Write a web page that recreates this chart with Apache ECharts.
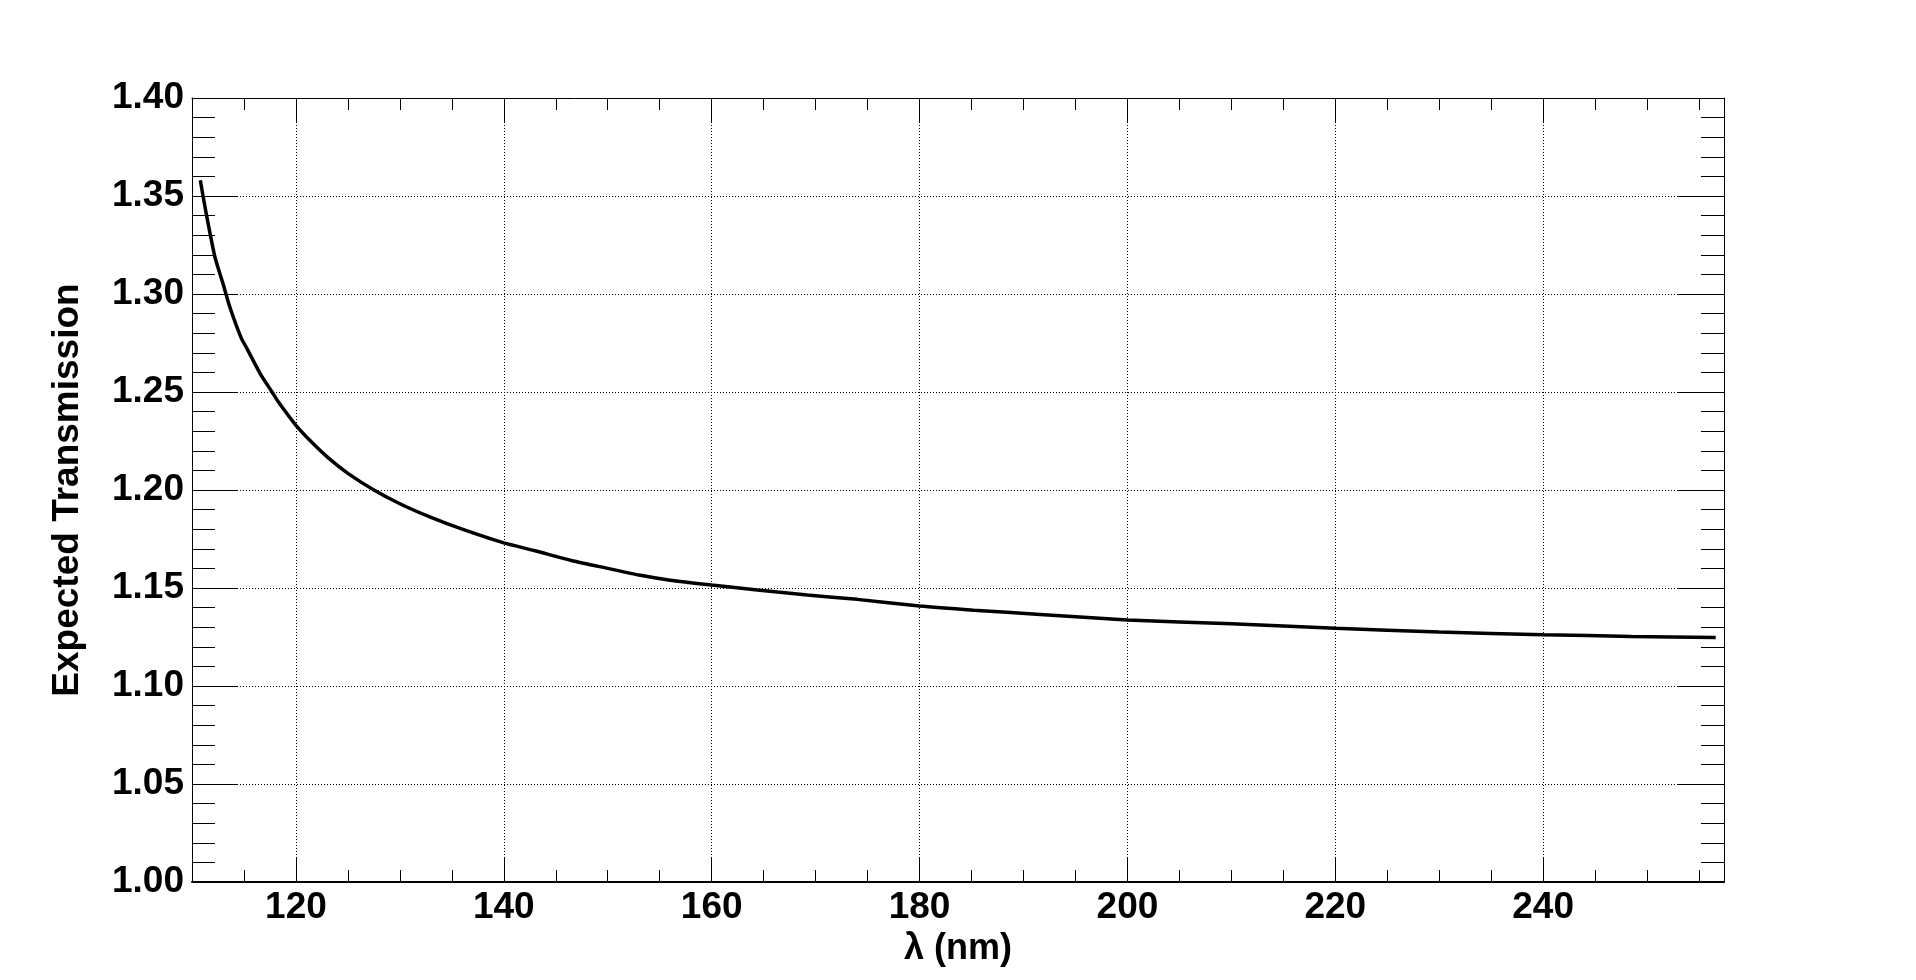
<!DOCTYPE html>
<html>
<head>
<meta charset="utf-8">
<script src="https://cdn.jsdelivr.net/npm/echarts@6/dist/echarts.min.js"></script>
<style>
  html, body { margin: 0; background: #fff; }
  #chart { width: 1916px; height: 980px; }
</style>
</head>
<body>
<div id="chart"></div>
<script>
const wavelength = [110.8, 111.3, 112.2, 113.0, 113.6, 114.7, 115.3, 116.6, 117.7, 118.3, 120, 121.5, 123.2, 125, 127.5, 130, 133, 136, 140, 143, 146.5, 150, 153, 156, 160, 164.4, 169.2, 174, 180, 185.2, 191.6, 200, 210, 220, 230, 240, 248.5, 256.6]
const transmission = [1.358, 1.343, 1.319, 1.305, 1.294, 1.278, 1.272, 1.259, 1.250, 1.245, 1.233, 1.2245, 1.216, 1.2085, 1.200, 1.193, 1.186, 1.180, 1.173, 1.169, 1.164, 1.160, 1.1566, 1.154, 1.1515, 1.149, 1.1464, 1.1442, 1.1408, 1.1387, 1.1365, 1.1337, 1.1317, 1.1295, 1.1275, 1.1262, 1.1253, 1.1247]

const xMajorTicks = [120, 140, 160, 180, 200, 220, 240]
const xMin = 110
const xMax = 257.4
const yMin = 1.0
const yMax = 1.4

const font = 'Liberation Sans'
const black = '#000'
const labelSize = 37

const chart = echarts.init(document.getElementById('chart'))

const dotted = { color: black, width: 1, type: [1, 2] }

// minor ticks every 5 nm (frame line lives here)
const xMinorAxis = (position, lineWidth) => ({
  type: 'value',
  position,
  min: xMin,
  max: xMax,
  interval: 5,
  axisLine: { show: true, onZero: false, lineStyle: { color: black, width: lineWidth } },
  axisTick: { show: true, inside: true, length: 12, lineStyle: { color: black, width: 1 } },
  axisLabel: { show: false },
  splitLine: { show: false },
})

// long ticks at the labelled values
const xMajorAxis = (position, withLabels) => ({
  type: 'value',
  position,
  min: xMin,
  max: xMax,
  axisLine: { show: false },
  axisTick: { show: true, inside: true, length: 25, customValues: xMajorTicks, lineStyle: { color: black, width: 1 } },
  axisLabel: {
    show: withLabels,
    customValues: xMajorTicks,
    margin: 7,
    color: black,
    fontFamily: font,
    fontWeight: 'bold',
    fontSize: labelSize,
  },
  splitLine: { show: withLabels, lineStyle: dotted },
  name: withLabels ? 'λ (nm)' : '',
  nameLocation: 'middle',
  nameGap: 44,
  nameTextStyle: { color: black, fontFamily: font, fontWeight: 'bold', fontSize: 36 },
})

const yAxis = (position, withLabels) => ({
  type: 'value',
  position,
  min: yMin,
  max: yMax,
  interval: 0.05,
  axisLine: { show: true, onZero: false, lineStyle: { color: black, width: 1 } },
  axisTick: { show: true, inside: true, length: 46, lineStyle: { color: black, width: 1 } },
  minorTick: { show: true, splitNumber: 5, length: 23, lineStyle: { color: black, width: 1 } },
  axisLabel: {
    show: withLabels,
    margin: 8,
    color: black,
    fontFamily: font,
    fontWeight: 'bold',
    fontSize: labelSize,
    formatter: v => v.toFixed(2),
  },
  splitLine: { show: withLabels, lineStyle: dotted },
  name: withLabels ? 'Expected Transmission' : '',
  nameLocation: 'middle',
  nameGap: 106,
  nameRotate: 90,
  nameTextStyle: { color: black, fontFamily: font, fontWeight: 'bold', fontSize: 37 },
})

chart.setOption({
  animation: false,
  backgroundColor: '#fff',
  grid: { left: 192, top: 98, width: 1532, height: 784, containLabel: false },
  xAxis: [
    xMinorAxis('bottom', 2),
    xMajorAxis('bottom', true),
    xMinorAxis('top', 1),
    xMajorAxis('top', false),
  ],
  yAxis: [
    yAxis('left', true),
    yAxis('right', false),
  ],
  series: [{
    type: 'line',
    xAxisIndex: 0,
    yAxisIndex: 0,
    showSymbol: false,
    smooth: 0.2,
    lineStyle: { color: black, width: 3.5 },
    data: wavelength.map((w, i) => [w, transmission[i]]),
  }],
})
</script>
</body>
</html>
